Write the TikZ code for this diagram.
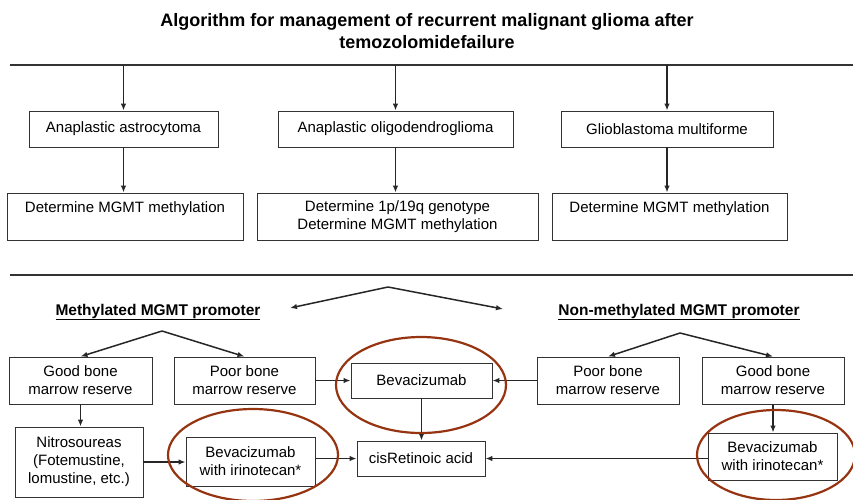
\documentclass[tikz,border=0pt]{standalone}
\usepackage{fontspec}
\setmainfont{Liberation Sans}
\usepackage{xcolor}
\usetikzlibrary{arrows.meta}
\definecolor{ringbrown}{RGB}{150,52,18}

\begin{document}
\begin{tikzpicture}[x=1pt,y=-1pt,
   box/.style={draw=black!80,line width=0.9pt,align=center,inner sep=0pt,
      font=\fontsize{15}{18}\selectfont},
   head/.style={font=\bfseries\fontsize{15.5}{18}\selectfont},
   arr/.style={-{Latex[length=7pt,width=5.5pt]},line width=1.5pt,black!85},
   rule/.style={line width=2.6pt,black!80},
   ring/.style={ringbrown,line width=2.2pt}]
   \useasboundingbox (0,0) rectangle (853,499);

   % Title
   \node[font=\bfseries\fontsize{18}{22}\selectfont,align=center] (title) at (427,31)
      {Algorithm for management of recurrent malignant glioma after\\temozolomidefailure};
   \draw[rule] (10,65) coordinate (top1) -- (853,65) coordinate (top2);

   % Histology
   \node[box,minimum width=189,minimum height=36] (aa) at (123.5,129) {Anaplastic astrocytoma};
   \node[box,minimum width=235,minimum height=36] (ao) at (395.5,129) {Anaplastic oligodendroglioma};
   \node[box,minimum width=212,minimum height=36] (gm) at (667,129) {Glioblastoma multiforme};

   \node[box,minimum width=236,minimum height=47] (dm1) at (125,216.5) {Determine MGMT methylation\\ {}};
   \node[box,minimum width=281,minimum height=47] (dg) at (397.5,216.5) {Determine 1p/19q genotype\\Determine MGMT methylation};
   \node[box,minimum width=235,minimum height=47] (dm3) at (669.5,216.5) {Determine MGMT methylation\\ {}};

   \foreach \n in {aa,ao,gm}
      \draw[arr] (top1 -| \n.north) -- (\n.north);
   \draw[arr] (aa.south) -- (aa.south |- dm1.north);
   \draw[arr] (ao.south) -- (ao.south |- dg.north);
   \draw[arr] (gm.south) -- (gm.south |- dm3.north);

   \draw[rule] (10,275) coordinate (mid1) -- (853,275) coordinate (mid2);

   % MGMT status
   \coordinate (split) at (388,287);
   \node[head] (meth) at (158,312) {\underline{Methylated MGMT promoter}};
   \node[head] (nonmeth) at (679,312) {\underline{Non-methylated MGMT promoter}};
   \coordinate (methend) at (290,308);
   \coordinate (nonend) at (503,309);
   \draw[arr] (split) -- (methend);
   \draw[arr] (split) -- (nonend);

   \node[box,minimum width=143,minimum height=47] (gl) at (80.5,380.5) {Good bone\\marrow reserve};
   \node[box,minimum width=141,minimum height=47] (pl) at (244.5,380.5) {Poor bone\\marrow reserve};
   \node[box,minimum width=141,minimum height=35] (bev) at (421.5,380.5) {Bevacizumab};
   \node[box,minimum width=142,minimum height=47] (pr) at (608,380.5) {Poor bone\\marrow reserve};
   \node[box,minimum width=142,minimum height=47] (gr) at (773,380.5) {Good bone\\marrow reserve};

   \coordinate (lsplit) at (162,331);
   \coordinate (rsplit) at (680,333);
   \draw[arr] (lsplit) -- (gl.north);
   \draw[arr] (lsplit) -- (pl.north);
   \draw[arr] (rsplit) -- (pr.north);
   \draw[arr] (rsplit) -- (gr.north);

   % Treatment
   \node[box,minimum width=128,minimum height=70] (nit) at (79,462) {Nitrosoureas\\(Fotemustine,\\lomustine, etc.)};
   \node[box,minimum width=129,minimum height=49] (bil) at (250.5,461.5) {Bevacizumab\\with irinotecan*};
   \node[box,minimum width=128,minimum height=35] (cis) at (421,458.5) {cisRetinoic acid};
   \node[box,minimum width=129,minimum height=47] (bir) at (772.5,456.5) {Bevacizumab\\with irinotecan*};

   \draw[arr] (gl.south) -- (gl.south |- nit.north);
   \draw[arr] (pl.east) -- (bev.west);
   \draw[arr] (pr.west) -- (bev.east);
   \draw[arr] (bev.south) -- (bev.south |- cis.north);
   \draw[arr] (nit.east) -- (nit.east -| bil.west);
   \draw[arr] (cis.west -| bil.east) -- (cis.west);
   \draw[arr] (gr.south) -- (gr.south |- bir.north);
   \draw[arr] (cis.east -| bir.west) -- (cis.east);

   % highlighted options
   \draw[ring] (421,385) ellipse [x radius=85, y radius=48];
   \draw[ring] (253,455) ellipse [x radius=85, y radius=46];
   \draw[ring] (776,455) ellipse [x radius=79, y radius=45];
\end{tikzpicture}
\end{document}
